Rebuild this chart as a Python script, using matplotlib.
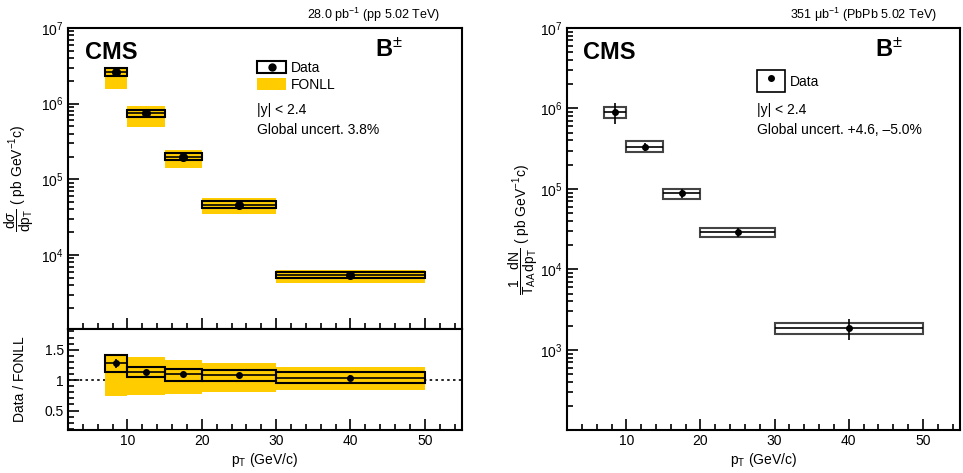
import matplotlib
matplotlib.use('Agg')
import matplotlib.pyplot as plt
import numpy as np
from matplotlib.patches import Rectangle, Patch
from matplotlib.lines import Line2D
from matplotlib.ticker import MultipleLocator

plt.rcParams['font.family'] = ['Liberation Sans', 'DejaVu Sans']
plt.rcParams['mathtext.fontset'] = 'custom'
plt.rcParams['mathtext.rm'] = 'Liberation Sans'
plt.rcParams['mathtext.it'] = 'Liberation Sans:italic'
plt.rcParams['mathtext.bf'] = 'Liberation Sans:bold'
plt.rcParams['mathtext.sf'] = 'Liberation Sans'

# pT bins (GeV/c)
bin_lo = np.array([7, 10, 15, 20, 30])
bin_hi = np.array([10, 15, 20, 30, 50])
pt = np.array([8.5, 12.5, 17.5, 25, 40])

# pp cross section (pb GeV^-1 c)
pp_xsec = np.array([2.62e6, 7.5e5, 1.98e5, 4.6e4, 5.4e3])
pp_stat = np.array([1.0e5, 2.0e4, 5.0e3, 1.2e3, 2.0e2])
pp_syst_lo = np.array([2.34e6, 6.7e5, 1.80e5, 4.2e4, 4.9e3])
pp_syst_hi = np.array([2.95e6, 8.3e5, 2.20e5, 5.1e4, 5.9e3])
fonll_lo = np.array([1.56e6, 4.9e5, 1.42e5, 3.5e4, 4.3e3])
fonll_hi = np.array([3.05e6, 9.3e5, 2.44e5, 5.7e4, 6.3e3])

# data / FONLL
ratio = np.array([1.275, 1.127, 1.094, 1.08, 1.04])
ratio_stat = np.array([0.075, 0.03, 0.03, 0.03, 0.05])
ratio_syst_lo = np.array([1.137, 1.044, 0.99, 0.99, 0.956])
ratio_syst_hi = np.array([1.41, 1.22, 1.176, 1.165, 1.127])
fonll_ratio_lo = np.array([0.736, 0.748, 0.78, 0.81, 0.835])
fonll_ratio_hi = np.array([1.42, 1.374, 1.325, 1.275, 1.214])

# PbPb 1/TAA dN/dpT
pbpb = np.array([9.1e5, 3.34e5, 8.8e4, 2.9e4, 1.87e3])
pbpb_stat_lo = np.array([2.7e5, 4.0e4, 1.05e4, 3.5e3, 5.5e2])
pbpb_stat_hi = np.array([2.6e5, 4.0e4, 1.05e4, 3.5e3, 5.8e2])
pbpb_syst_lo = np.array([7.6e5, 2.85e5, 7.4e4, 2.5e4, 1.58e3])
pbpb_syst_hi = np.array([1.05e6, 3.9e5, 1.01e5, 3.3e4, 2.16e3])

yellow = '#ffcc00'
width = bin_hi - bin_lo
xerr = [pt - bin_lo, bin_hi - pt]


def style_axis(ax):
    for s in ax.spines.values():
        s.set_linewidth(1.5)
    ax.tick_params(which='both', direction='in', top=False, right=False, width=1.2, labelsize=10)
    ax.tick_params(which='major', length=8, pad=3)
    ax.tick_params(which='minor', length=4)
    ax.xaxis.set_major_locator(MultipleLocator(10))
    ax.xaxis.set_minor_locator(MultipleLocator(2))
    ax.set_xlim(2, 55)


fig = plt.figure(figsize=(9.63, 4.73), dpi=100)
ax1 = fig.add_axes([0.0706, 0.3044, 0.4091, 0.6364])
ax2 = fig.add_axes([0.0706, 0.0909, 0.4091, 0.2135])
ax3 = fig.add_axes([0.5888, 0.0909, 0.4081, 0.8499])

# ---- pp spectrum
ax1.bar(pt, fonll_hi - fonll_lo, bottom=fonll_lo, width=width, color=yellow, zorder=1)
ax1.bar(pt, pp_syst_hi - pp_syst_lo, bottom=pp_syst_lo, width=width, fill=False,
        edgecolor='k', lw=1.5, zorder=2)
ax1.errorbar(pt, pp_xsec, xerr=xerr, yerr=pp_stat, fmt='o', color='k', ms=5.5,
             lw=1.2, capsize=0, zorder=3)
ax1.set_yscale('log')
ax1.set_ylim(1050, 1e7)
style_axis(ax1)
ax1.tick_params(labelbottom=False)
ax1.set_ylabel(r'$\dfrac{\mathrm{d}\sigma}{\mathrm{dp}_{\mathrm{T}}}$ ( pb GeV$^{-1}$c)', fontsize=10)
ax1.yaxis.set_label_coords(-0.08, 0.5)

ax1.text(0.043, 0.92, 'CMS', transform=ax1.transAxes, fontsize=17, fontweight='bold', va='center')
ax1.text(0.779, 0.927, r'$\mathbf{B}^{\pm}$', transform=ax1.transAxes, fontsize=17, va='center')
h_data = (Rectangle((0, 0), 1, 1, facecolor='white', edgecolor='k', lw=1.5),
          Line2D([], [], marker='o', color='k', ls='', ms=5))
h_fonll = Patch(facecolor=yellow, edgecolor='none')
ax1.legend([h_data, h_fonll], ['Data', 'FONLL'], loc='upper left', bbox_to_anchor=(0.48, 0.89),
           frameon=False, fontsize=10, handlelength=2.1, handleheight=0.95, handletextpad=0.3,
           labelspacing=0.2, borderpad=0, borderaxespad=0)
ax1.text(0.48, 0.7276, '|y| < 2.4', transform=ax1.transAxes, fontsize=10, va='center')
ax1.text(0.48, 0.661, 'Global uncert. 3.8%', transform=ax1.transAxes, fontsize=10, va='center')

# ---- ratio
ax2.axhline(1, ls=(0, (1.5, 2)), color='k', lw=1.2, zorder=0)
ax2.bar(pt, fonll_ratio_hi - fonll_ratio_lo, bottom=fonll_ratio_lo, width=width, color=yellow, zorder=1)
ax2.bar(pt, ratio_syst_hi - ratio_syst_lo, bottom=ratio_syst_lo, width=width, fill=False,
        edgecolor='k', lw=1.5, zorder=2)
ax2.errorbar(pt, ratio, xerr=xerr, yerr=ratio_stat, fmt='o', color='k', ms=4,
             lw=1.2, capsize=0, zorder=3)
ax2.set_ylim(0.18, 1.84)
style_axis(ax2)
ax2.yaxis.set_major_locator(MultipleLocator(0.5))
ax2.yaxis.set_minor_locator(MultipleLocator(0.1))
ax2.yaxis.set_major_formatter(matplotlib.ticker.FuncFormatter(lambda v, p: f'{v:g}'))
ax2.set_ylabel('Data / FONLL', fontsize=10)
ax2.yaxis.set_label_coords(-0.104, 0.5)
ax2.set_xlabel(r'p$_{\mathrm{T}}$ (GeV/c)', fontsize=10, labelpad=2)

# ---- PbPb spectrum
ax3.bar(pt, pbpb_syst_hi - pbpb_syst_lo, bottom=pbpb_syst_lo, width=width, fill=False,
        edgecolor='#444444', lw=1.5, zorder=2)
ax3.errorbar(pt, pbpb, xerr=xerr, yerr=[pbpb_stat_lo, pbpb_stat_hi], fmt='o', color='k', ms=4,
             lw=1.2, capsize=0, zorder=3)
ax3.set_yscale('log')
ax3.set_ylim(101, 1e7)
style_axis(ax3)
ax3.set_ylabel(r'$\dfrac{1}{\mathrm{T}_{\mathrm{AA}}}\dfrac{\mathrm{dN}}{\mathrm{dp}_{\mathrm{T}}}$ ( pb GeV$^{-1}$c)',
               fontsize=10)
ax3.yaxis.set_label_coords(-0.07, 0.5)
ax3.set_xlabel(r'p$_{\mathrm{T}}$ (GeV/c)', fontsize=10, labelpad=2)

ax3.text(0.041, 0.938, 'CMS', transform=ax3.transAxes, fontsize=17, fontweight='bold', va='center')
ax3.text(0.784, 0.945, r'$\mathbf{B}^{\pm}$', transform=ax3.transAxes, fontsize=17, va='center')
h_data2 = (Rectangle((0, 0), 1, 1, facecolor='white', edgecolor='k', lw=1.2),
           Line2D([], [], marker='o', color='k', ls='', ms=4))
ax3.legend([h_data2], ['Data'], loc='upper left', bbox_to_anchor=(0.4835, 0.8955),
           frameon=False, fontsize=10, handlelength=2.0, handleheight=2.1, handletextpad=0.4,
           borderpad=0, borderaxespad=0)
ax3.text(0.4835, 0.796, '|y| < 2.4', transform=ax3.transAxes, fontsize=10, va='center')
ax3.text(0.4835, 0.746, 'Global uncert. +4.6, \u20135.0%', transform=ax3.transAxes, fontsize=10, va='center')

fig.text(0.457, 0.968, r'28.0 pb$^{-1}$ (pp 5.02 TeV)', ha='right', va='center', fontsize=9)
fig.text(0.973, 0.968, '351 \u03bcb$^{-1}$ (PbPb 5.02 TeV)', ha='right', va='center', fontsize=9)

fig.savefig('out.png', dpi=100)
